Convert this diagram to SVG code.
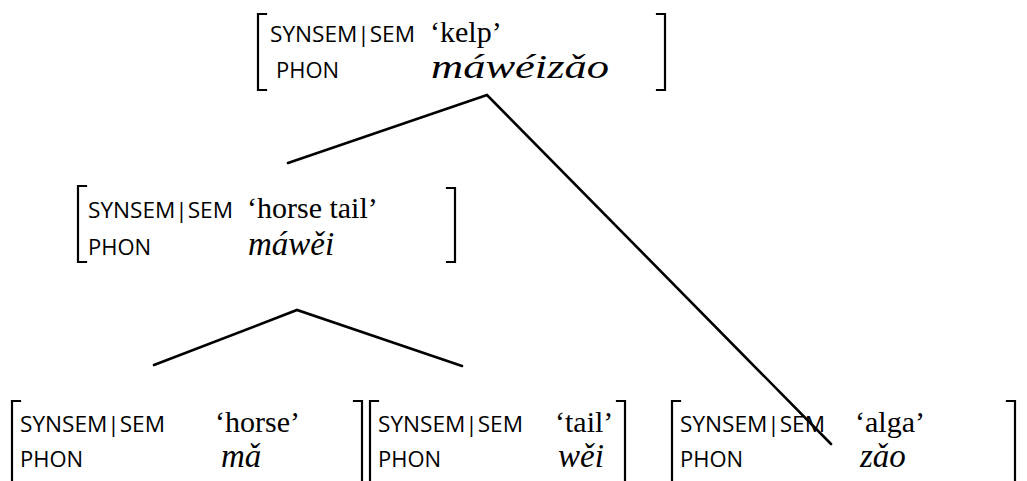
<svg xmlns="http://www.w3.org/2000/svg" width="1027" height="481" viewBox="0 0 1027 481">
<style>
.br{fill:none;stroke:#000;stroke-width:2.2;stroke-linecap:square}
.ln{fill:none;stroke:#000;stroke-width:2.6;stroke-linecap:round;stroke-linejoin:miter}
.k{font-family:"Open Sans","Noto Sans",sans-serif;font-size:22px;fill:#000}
.v{font-family:"Liberation Serif","Times New Roman",serif;font-size:30px;fill:#000}
.p{font-family:"Liberation Serif","Times New Roman",serif;font-size:33px;font-style:italic;fill:#000}
</style>
<g id="connectors">
<polyline class="ln" points="288,163 487,95 831,444"/>
<polyline class="ln" points="154,365 297,310 462,366"/>
</g>
<g id="node-kelp">
<path class="br" d="M266,14 H258 V90 H266"/>
<path class="br" d="M657,14 H665 V90 H657"/>
<text class="k" x="270" y="42" textLength="145" lengthAdjust="spacingAndGlyphs">SYNSEM|SEM</text>
<text class="v" x="430" y="42">‘kelp’</text>
<text class="k" x="276" y="78">PHON</text>
<text class="p" x="431" y="78" textLength="178" lengthAdjust="spacingAndGlyphs">máwéizǎo</text>
</g>
<g id="node-horsetail">
<path class="br" d="M86,186 H78 V262 H86"/>
<path class="br" d="M447,188 H455 V262 H447"/>
<text class="k" x="88" y="218" textLength="145" lengthAdjust="spacingAndGlyphs">SYNSEM|SEM</text>
<text class="v" x="247" y="218">‘horse tail’</text>
<text class="k" x="88" y="255">PHON</text>
<text class="p" x="248" y="255">máwěi</text>
</g>
<g id="node-horse">
<path class="br" d="M20,401 H12 V481"/>
<path class="br" d="M354,401 H362 V481"/>
<text class="k" x="20" y="432" textLength="145" lengthAdjust="spacingAndGlyphs">SYNSEM|SEM</text>
<text class="v" x="215" y="432">‘horse’</text>
<text class="k" x="20" y="467">PHON</text>
<text class="p" x="221" y="467">mǎ</text>
</g>
<g id="node-tail">
<path class="br" d="M378,401 H370 V481"/>
<path class="br" d="M617,401 H625 V481"/>
<text class="k" x="378" y="432" textLength="145" lengthAdjust="spacingAndGlyphs">SYNSEM|SEM</text>
<text class="v" x="555" y="432">‘tail’</text>
<text class="k" x="378" y="467">PHON</text>
<text class="p" x="558" y="467">wěi</text>
</g>
<g id="node-alga">
<path class="br" d="M680,401 H672 V481"/>
<path class="br" d="M1007,401 H1015 V481"/>
<text class="k" x="680" y="432" textLength="145" lengthAdjust="spacingAndGlyphs">SYNSEM|SEM</text>
<text class="v" x="855" y="432">‘alga’</text>
<text class="k" x="680" y="467">PHON</text>
<text class="p" x="860" y="467">zǎo</text>
</g>
</svg>
